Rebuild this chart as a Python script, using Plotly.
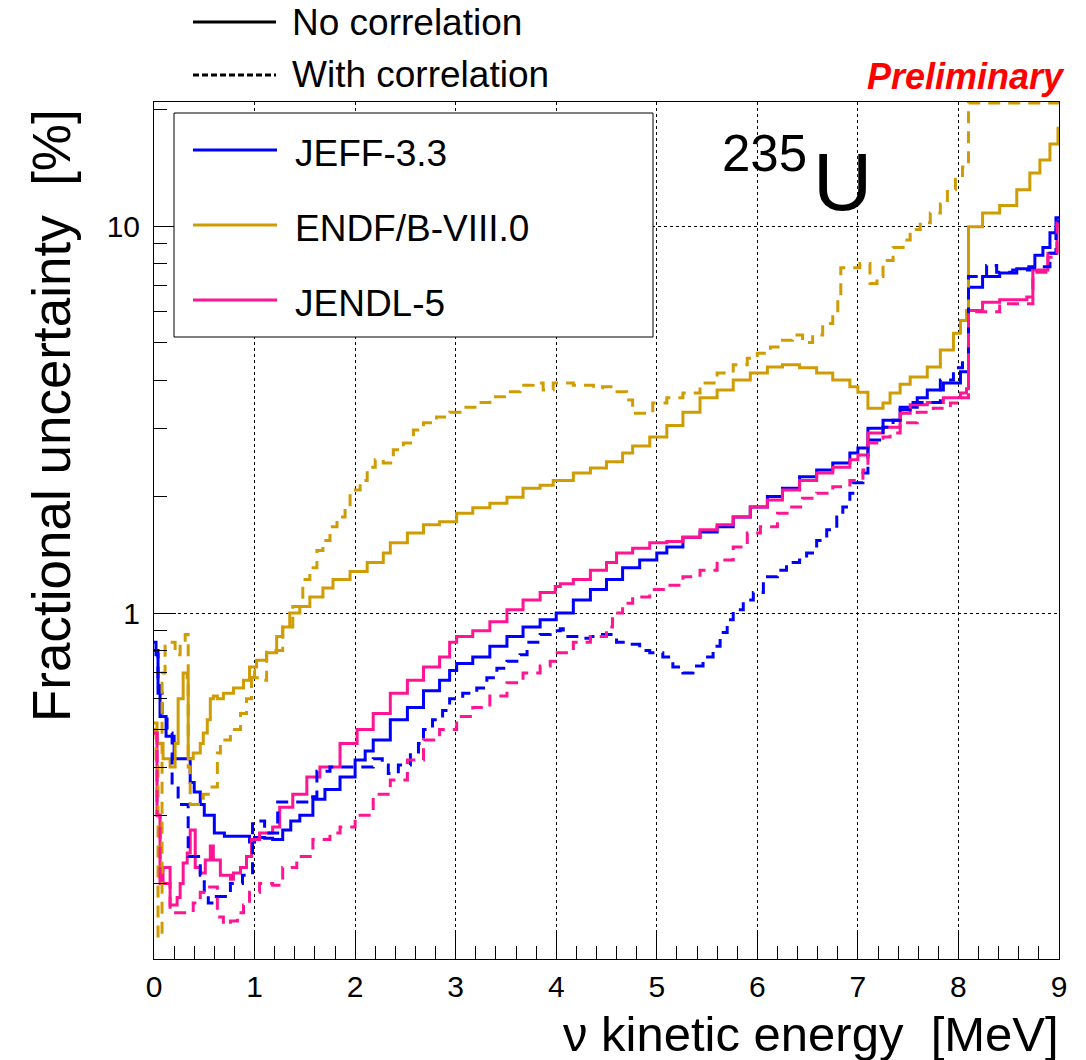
import plotly.graph_objects as go

# ---------------- data ----------------
# JEFF-3.3, no correlation
jeff_x = [0, 0.02, 0.04, 0.06, 0.12, 0.2, 0.26, 0.36, 0.40, 0.46, 0.5, 0.6, 0.7, 0.8, 0.9, 0.95, 1.0,
          1.1, 1.18, 1.28, 1.36, 1.45, 1.58, 1.7, 1.85, 2.0, 2.1, 2.18, 2.35, 2.52, 2.68, 2.84, 2.94, 3.01,
          3.17, 3.34, 3.51, 3.67, 3.84, 4.0, 4.17, 4.34, 4.5, 4.66, 4.83, 5.0, 5.1, 5.26, 5.43, 5.6, 5.76,
          5.93, 6.1, 6.25, 6.42, 6.59, 6.75, 6.92, 7.0, 7.1, 7.25, 7.42, 7.59, 7.69, 7.85, 8.02, 8.1, 8.24,
          8.41, 8.58, 8.7, 8.76, 8.84, 8.91, 8.97]
jeff_y = [0.84, 0.78, 0.65, 0.54, 0.48, 0.42, 0.42, 0.365, 0.345, 0.32, 0.30, 0.27, 0.265, 0.265, 0.265,
          0.256, 0.263, 0.262, 0.26, 0.275, 0.29, 0.30, 0.33, 0.35, 0.377, 0.417, 0.44, 0.47, 0.53, 0.57,
          0.63, 0.67, 0.71, 0.74, 0.77, 0.82, 0.87, 0.92, 0.96, 1.0, 1.08, 1.15, 1.22, 1.31, 1.37, 1.43,
          1.48, 1.57, 1.62, 1.67, 1.77, 1.88, 2.0, 2.1, 2.25, 2.34, 2.44, 2.59, 2.67, 3.0, 3.15, 3.4, 3.6,
          3.77, 3.93, 4.2, 6.95, 7.4, 7.56, 7.75, 7.85, 8.4, 8.8, 9.6, 10.5]

# JEFF-3.3, with correlation
jeffc_x = [0, 0.04, 0.08, 0.13, 0.18, 0.24, 0.34, 0.46, 0.5, 0.54, 0.62, 0.76, 0.88, 0.98, 1.1, 1.23,
           1.38, 1.52, 1.62, 1.75, 2.08, 2.18, 2.27, 2.33, 2.43, 2.55, 2.63, 2.68, 2.77, 2.87, 2.94, 3.07,
           3.21, 3.31, 3.41, 3.51, 3.64, 3.71, 3.84, 3.94, 4.04, 4.07, 4.24, 4.34, 4.46, 4.6, 4.7, 4.83,
           4.93, 5.06, 5.16, 5.26, 5.36, 5.46, 5.56, 5.63, 5.7, 5.76, 5.86, 5.96, 6.06, 6.2, 6.29, 6.42,
           6.49, 6.59, 6.69, 6.79, 6.85, 6.92, 6.95, 7.05, 7.1, 7.25, 7.35, 7.42, 7.52, 7.82, 7.95, 8.04,
           8.1, 8.28, 8.38, 8.54, 8.71, 8.81, 8.91, 8.97]
jeffc_y = [0.80, 0.62, 0.54, 0.49, 0.36, 0.32, 0.235, 0.21, 0.19, 0.178, 0.185, 0.2, 0.21, 0.29, 0.27,
           0.325, 0.325, 0.335, 0.39, 0.40, 0.40, 0.42, 0.405, 0.385, 0.405, 0.43, 0.46, 0.50, 0.53, 0.56,
           0.60, 0.62, 0.64, 0.68, 0.72, 0.75, 0.78, 0.84, 0.88, 0.90, 0.91, 0.87, 0.86, 0.87, 0.88, 0.84,
           0.83, 0.80, 0.79, 0.77, 0.725, 0.70, 0.73, 0.77, 0.82, 0.89, 0.96, 1.02, 1.08, 1.13, 1.24, 1.29,
           1.35, 1.37, 1.43, 1.54, 1.64, 1.77, 1.88, 2.04, 2.17, 2.3, 2.8, 3.02, 3.15, 3.35, 3.5, 4.0, 4.3,
           4.5, 7.4, 7.9, 7.6, 7.7, 7.8, 7.85, 8.5, 10.3]

# ENDF/B-VIII.0, no correlation
endf_x = [0, 0.03, 0.09, 0.16, 0.21, 0.24, 0.29, 0.33, 0.34, 0.39, 0.46, 0.49, 0.53, 0.56, 0.59, 0.63,
          0.69, 0.79, 0.89, 0.95, 1.02, 1.12, 1.22, 1.28, 1.35, 1.45, 1.55, 1.68, 1.78, 1.95, 2.12, 2.28,
          2.35, 2.52, 2.68, 2.84, 3.01, 3.17, 3.34, 3.51, 3.67, 3.84, 3.97, 4.17, 4.34, 4.5, 4.66, 4.76,
          4.93, 5.1, 5.26, 5.43, 5.6, 5.76, 5.93, 6.1, 6.25, 6.42, 6.59, 6.75, 6.92, 7.0, 7.1, 7.25, 7.32,
          7.42, 7.52, 7.69, 7.82, 7.95, 8.02, 8.08, 8.1, 8.24, 8.41, 8.58, 8.71, 8.81, 8.91, 8.99]
endf_y = [0.52, 0.46, 0.42, 0.40, 0.46, 0.6, 0.70, 0.68, 0.42, 0.435, 0.46, 0.49, 0.53, 0.60, 0.61, 0.60,
          0.62, 0.64, 0.67, 0.725, 0.755, 0.79, 0.87, 0.92, 1.0, 1.04, 1.1, 1.16, 1.22, 1.28, 1.35, 1.43,
          1.52, 1.61, 1.69, 1.72, 1.81, 1.87, 1.92, 1.99, 2.10, 2.14, 2.2, 2.3, 2.37, 2.46, 2.59, 2.7,
          2.85, 3.05, 3.3, 3.6, 3.77, 4.0, 4.17, 4.32, 4.38, 4.3, 4.17, 4.0, 3.84, 3.72, 3.38, 3.49, 3.7,
          3.9, 4.07, 4.32, 4.78, 5.28, 5.7, 6.05, 9.95, 10.8, 11.3, 12.4, 13.7, 14.8, 16.3, 17.9]

# ENDF/B-VIII.0, with correlation (above the frame after 8.1 MeV)
endfc_x = [0, 0.02, 0.04, 0.08, 0.11, 0.21, 0.26, 0.31, 0.34, 0.36, 0.49, 0.56, 0.63, 0.66, 0.76, 0.86,
           0.92, 0.97, 1.0, 1.08, 1.12, 1.28, 1.38, 1.48, 1.55, 1.62, 1.68, 1.75, 1.82, 1.9, 1.95, 2.05,
           2.12, 2.2, 2.28, 2.38, 2.48, 2.58, 2.68, 2.81, 2.94, 3.07, 3.21, 3.34, 3.51, 3.64, 3.77, 3.87,
           3.97, 4.17, 4.37, 4.46, 4.56, 4.7, 4.76, 4.96, 5.1, 5.26, 5.43, 5.6, 5.76, 5.9, 6.0, 6.13, 6.25,
           6.35, 6.45, 6.55, 6.65, 6.75, 6.8, 6.83, 7.02, 7.12, 7.19, 7.25, 7.35, 7.45, 7.52, 7.62, 7.72,
           7.82, 7.89, 7.97, 8.04, 8.1]
endfc_y = [0.5, 0.42, 0.145, 0.7, 0.84, 0.78, 0.85, 0.88, 0.40, 0.32, 0.34, 0.355, 0.435, 0.47, 0.50,
           0.55, 0.60, 0.71, 0.68, 0.67, 0.80, 0.92, 1.04, 1.22, 1.31, 1.45, 1.54, 1.67, 1.77, 1.88, 2.08,
           2.2, 2.38, 2.49, 2.44, 2.64, 2.75, 2.97, 3.1, 3.21, 3.3, 3.4, 3.5, 3.62, 3.73, 3.88, 3.93, 3.77,
           3.93, 3.88, 3.82, 3.84, 3.73, 3.55, 3.28, 3.49, 3.6, 3.7, 3.93, 4.17, 4.38, 4.55, 4.69, 4.87,
           5.07, 5.23, 5.0, 5.23, 5.6, 5.88, 6.45, 7.8, 8.0, 7.1, 7.4, 8.15, 8.8, 9.2, 9.8, 10.2, 10.8,
           11.4, 12.4, 13.2, 14.2, 20.8]

# JENDL-5, no correlation
jendl_x = [0, 0.03, 0.06, 0.09, 0.16, 0.23, 0.26, 0.29, 0.33, 0.36, 0.41, 0.46, 0.51, 0.56, 0.59, 0.66,
           0.76, 0.79, 0.86, 0.92, 0.97, 1.05, 1.18, 1.25, 1.38, 1.52, 1.65, 1.85, 2.02, 2.18, 2.35, 2.52,
           2.68, 2.84, 2.94, 3.01, 3.17, 3.34, 3.51, 3.67, 3.84, 3.99, 4.04, 4.17, 4.34, 4.5, 4.6, 4.76,
           4.93, 5.1, 5.26, 5.43, 5.6, 5.76, 5.93, 6.1, 6.25, 6.42, 6.59, 6.75, 6.92, 7.0, 7.1, 7.25, 7.42,
           7.52, 7.69, 7.85, 8.02, 8.08, 8.1, 8.24, 8.41, 8.61, 8.68, 8.74, 8.89, 8.98]
jendl_y = [0.49, 0.30, 0.2, 0.22, 0.176, 0.184, 0.2, 0.226, 0.24, 0.275, 0.22, 0.213, 0.23, 0.25, 0.23,
           0.21, 0.205, 0.213, 0.22, 0.235, 0.26, 0.27, 0.28, 0.315, 0.34, 0.377, 0.40, 0.46, 0.50, 0.55,
           0.62, 0.67, 0.725, 0.77, 0.84, 0.87, 0.90, 0.95, 1.02, 1.08, 1.13, 1.17, 1.19, 1.22, 1.29, 1.35,
           1.43, 1.47, 1.52, 1.53, 1.57, 1.64, 1.69, 1.77, 1.88, 1.96, 2.08, 2.2, 2.3, 2.38, 2.49, 2.56,
           2.92, 3.02, 3.28, 3.45, 3.5, 3.6, 3.7, 3.8, 6.05, 6.35, 6.45, 6.45, 6.55, 7.7, 8.5, 10.2]

# JENDL-5, with correlation
jendlc_x = [0, 0.03, 0.06, 0.16, 0.39, 0.46, 0.53, 0.63, 0.69, 0.76, 0.83, 0.89, 0.95, 1.05, 1.18, 1.28,
            1.42, 1.58, 1.75, 1.85, 2.0, 2.18, 2.35, 2.52, 2.68, 2.84, 3.01, 3.17, 3.34, 3.51, 3.67, 3.84,
            3.94, 4.01, 4.17, 4.34, 4.5, 4.56, 4.66, 4.76, 4.93, 5.1, 5.26, 5.43, 5.6, 5.76, 5.9, 6.03,
            6.2, 6.32, 6.45, 6.59, 6.75, 6.92, 7.05, 7.1, 7.25, 7.32, 7.42, 7.59, 7.75, 7.92, 8.04, 8.1,
            8.41, 8.61, 8.74, 8.89, 8.98]
jendlc_y = [0.49, 0.30, 0.2, 0.168, 0.178, 0.19, 0.196, 0.164, 0.157, 0.16, 0.168, 0.176, 0.19, 0.2,
            0.198, 0.22, 0.235, 0.26, 0.27, 0.28, 0.30, 0.34, 0.37, 0.417, 0.47, 0.50, 0.54, 0.57, 0.61,
            0.66, 0.70, 0.73, 0.75, 0.79, 0.84, 0.87, 0.92, 1.0, 1.06, 1.1, 1.15, 1.18, 1.24, 1.29, 1.37,
            1.48, 1.61, 1.67, 1.81, 1.88, 1.98, 2.04, 2.12, 2.2, 2.34, 2.75, 2.85, 2.92, 3.1, 3.3, 3.38,
            3.49, 3.6, 6.0, 6.3, 6.3, 7.6, 8.3, 10.0]

X_MAX = 9.0

# ---------------- styling ----------------
BLUE = "#0000ff"
GOLD = "#cf9c04"
PINK = "#ff1493"
FONT = "Liberation Sans, Arial, Helvetica, sans-serif"
DASH = "12px,8px"

series = [
    (jeff_x, jeff_y, BLUE, "solid", "JEFF-3.3"),
    (endf_x, endf_y, GOLD, "solid", "ENDF/B-VIII.0"),
    (jendl_x, jendl_y, PINK, "solid", "JENDL-5"),
    (jeffc_x, jeffc_y, BLUE, DASH, "JEFF-3.3 (corr.)"),
    (endfc_x, endfc_y, GOLD, DASH, "ENDF/B-VIII.0 (corr.)"),
    (jendlc_x, jendlc_y, PINK, DASH, "JENDL-5 (corr.)"),
]

fig = go.Figure()
for xs, ys, col, dash, name in series:
    fig.add_trace(go.Scatter(
        x=list(xs) + [X_MAX], y=list(ys) + [ys[-1]],
        mode="lines", line=dict(color=col, width=3, dash=dash, shape="hv"),
        name=name, showlegend=False, hoverinfo="skip"))

# plot-area geometry in pixels
W, H = 1086, 1060
L, R, T, B = 154, 1059, 102, 959


def px(xp):
    return (xp - L) / (R - L)


def py(yp):
    return (B - yp) / (B - T)


fig.update_layout(
    width=W, height=H,
    margin=dict(l=L, r=W - R, t=T, b=H - B, pad=0),
    paper_bgcolor="white", plot_bgcolor="white",
    font=dict(family=FONT, color="black"),
    xaxis=dict(range=[0, 9], tick0=0, dtick=1, ticks="inside", ticklen=28, tickwidth=1,
               tickcolor="black", showline=True, linecolor="black", linewidth=1, mirror=True,
               showgrid=True, gridcolor="black", griddash="dot", gridwidth=1, zeroline=False,
               tickfont=dict(size=30, family=FONT), ticklabelstandoff=1,
               minor=dict(dtick=0.2, ticks="inside", ticklen=13, tickcolor="black", showgrid=False)),
    yaxis=dict(type="log", range=[-0.894, 1.3204], dtick=1, ticks="inside", ticklen=22, tickwidth=1,
               tickcolor="black", showline=True, linecolor="black", linewidth=1, mirror=True,
               showgrid=True, gridcolor="black", griddash="dot", gridwidth=1, zeroline=False,
               tickfont=dict(size=30, family=FONT), ticklabelstandoff=7,
               minor=dict(dtick="D1", ticks="inside", ticklen=13, tickcolor="black", showgrid=False)),
)

shapes = []
ann = []

# legend box inside the frame
shapes.append(dict(type="rect", xref="paper", yref="paper", x0=px(174), x1=px(653), y0=py(337),
                   y1=py(113), line=dict(color="black", width=1), fillcolor="white", layer="above"))
leg = [("JEFF-3.3", BLUE, 150), ("ENDF/B-VIII.0", GOLD, 225), ("JENDL-5", PINK, 300)]
for txt, col, yy in leg:
    shapes.append(dict(type="line", xref="paper", yref="paper", x0=px(193), x1=px(277), y0=py(yy),
                       y1=py(yy), line=dict(color=col, width=3), layer="above"))
    ann.append(dict(text=txt, xref="paper", yref="paper", x=px(293), y=py(yy + 3), xanchor="left",
                    yanchor="middle", showarrow=False, font=dict(size=37, family=FONT, color="black")))

# style legend above the frame
for txt, dash, yy in [("No correlation", "solid", 22), ("With correlation", "6px,3px", 75)]:
    shapes.append(dict(type="line", xref="paper", yref="paper", x0=px(193), x1=px(276), y0=py(yy),
                       y1=py(yy), line=dict(color="black", width=3, dash=dash), layer="above"))
    ann.append(dict(text=txt, xref="paper", yref="paper", x=px(290), y=py(yy), xanchor="left",
                    yanchor="middle", showarrow=False, font=dict(size=37, family=FONT, color="black")))

# Preliminary
ann.append(dict(text="<b><i>Preliminary</i></b>", xref="paper", yref="paper", x=px(1067), y=py(76),
                xanchor="right", yanchor="middle", showarrow=False,
                font=dict(size=36, family=FONT, color="#ff0000")))

# 235U
ann.append(dict(text="235", xref="paper", yref="paper", x=px(809), y=py(153), xanchor="right",
                yanchor="middle", showarrow=False, font=dict(size=51, family=FONT, color="black")))
ann.append(dict(text="U", xref="paper", yref="paper", x=px(811), y=py(182), xanchor="left",
                yanchor="middle", showarrow=False, font=dict(size=82, family=FONT, color="black")))

# axis titles
ann.append(dict(text="Fractional uncertainty\u00a0 [%]", xref="paper", yref="paper", x=px(51), y=py(416),
                xanchor="center", yanchor="middle", textangle=-90, showarrow=False,
                font=dict(size=53, family=FONT, color="black")))
ann.append(dict(text="\u03bd kinetic energy\u00a0 [MeV]", xref="paper", yref="paper", x=px(1061),
                y=py(1063), xanchor="right", yanchor="bottom", showarrow=False,
                font=dict(size=49, family=FONT, color="black")))

fig.update_layout(shapes=shapes, annotations=ann)
fig.write_html("out.html")
